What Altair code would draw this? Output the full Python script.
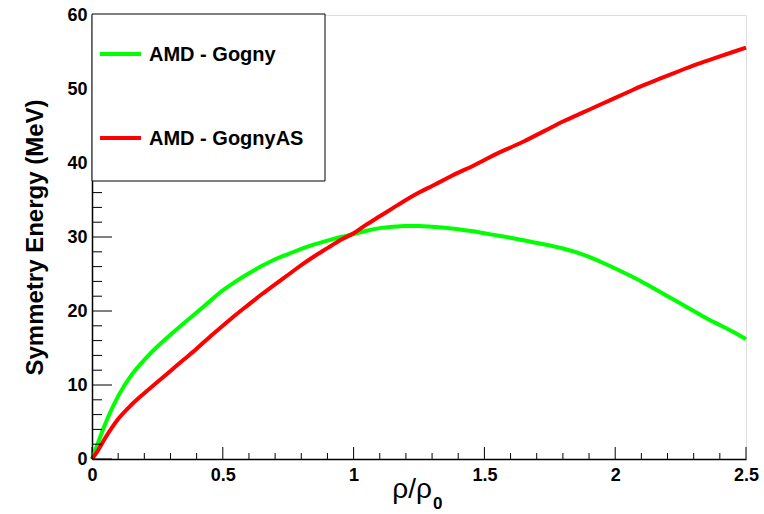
import altair as alt
import pandas as pd

# Reduced density rho/rho0 and symmetry energy (MeV) for the two AMD interactions
rho = [0.0, 0.02, 0.05, 0.1, 0.15, 0.2, 0.25, 0.3, 0.35, 0.4, 0.45, 0.5,
       0.55, 0.6, 0.65, 0.7, 0.75, 0.8, 0.85, 0.9, 0.95, 1.0, 1.05, 1.1,
       1.15, 1.2, 1.25, 1.3, 1.35, 1.4, 1.45, 1.5, 1.55, 1.6, 1.65, 1.7,
       1.75, 1.8, 1.85, 1.9, 1.95, 2.0, 2.05, 2.1, 2.15, 2.2, 2.25, 2.3,
       2.35, 2.4, 2.45, 2.5]

esym_gogny = [0.0, 1.9, 4.7, 8.5, 11.3, 13.4, 15.2, 16.8, 18.3, 19.8, 21.3, 22.8,
              24.0, 25.1, 26.1, 27.0, 27.7, 28.4, 29.0, 29.5, 30.0, 30.4, 30.85, 31.2,
              31.4, 31.5, 31.5, 31.4, 31.25, 31.05, 30.8, 30.5, 30.2, 29.9, 29.55, 29.2,
              28.85, 28.45, 27.95, 27.3, 26.55, 25.75, 24.9, 24.0, 23.0, 22.0, 21.0, 20.0,
              19.0, 18.1, 17.2, 16.2]

esym_gognyas = [0.0, 1.0, 2.8, 5.4, 7.3, 8.9, 10.4, 11.9, 13.4, 14.9, 16.5, 18.0,
                19.5, 20.9, 22.3, 23.6, 24.9, 26.2, 27.4, 28.5, 29.6, 30.5, 31.7, 32.8,
                33.9, 35.0, 36.0, 36.9, 37.8, 38.7, 39.5, 40.4, 41.3, 42.1, 42.9, 43.8,
                44.7, 45.6, 46.4, 47.2, 48.0, 48.8, 49.6, 50.4, 51.1, 51.8, 52.5, 53.2,
                53.8, 54.4, 55.0, 55.6]

models = ["AMD - Gogny", "AMD - GognyAS"]
model_colors = ["#00ff00", "#ff0000"]

x_labels = [0, 0.5, 1, 1.5, 2, 2.5]
x_minor = [0.1, 0.2, 0.3, 0.4, 0.6, 0.7, 0.8, 0.9, 1.1, 1.2, 1.3, 1.4,
           1.6, 1.7, 1.8, 1.9, 2.1, 2.2, 2.3, 2.4]
y_labels = [0, 10, 20, 30, 40, 50, 60]
y_minor = [2, 4, 6, 8, 12, 14, 16, 18, 22, 24, 26, 28, 32, 34, 36, 38,
           42, 44, 46, 48, 52, 54, 56, 58]

FONT = "Liberation Sans"
W, H = 654, 444

curves = pd.DataFrame({
    "rho": rho * 2,
    "esym": esym_gogny + esym_gognyas,
    "model": [models[0]] * len(rho) + [models[1]] * len(rho),
})

xs = alt.Scale(domain=[0, 2.5], nice=False, zero=False)
ys = alt.Scale(domain=[0, 60], nice=False, zero=False)

x_axis = alt.Axis(values=x_labels, format="~g", ticks=False, grid=False,
                  domainColor="black", domainWidth=1.5,
                  labelFont=FONT, labelFontSize=18, labelFontWeight="bold",
                  labelColor="black", labelPadding=7, labelFlush=False,
                  labelOverlap=False, title=None)
y_axis = alt.Axis(values=y_labels, format="d", ticks=False, grid=False,
                  domainColor="black", domainWidth=1.5,
                  labelFont=FONT, labelFontSize=18, labelFontWeight="bold",
                  labelColor="black", labelPadding=5, labelFlush=False,
                  labelOverlap=False,
                  title="Symmetry Energy (MeV)", titleFont=FONT,
                  titleFontSize=24, titleFontWeight="bold", titleColor="black",
                  titleAngle=270, titleAlign="center", titleBaseline="middle",
                  titleX=-57, titleY=H / 2)

lines = alt.Chart(curves).mark_line(strokeWidth=4, interpolate="monotone").encode(
    x=alt.X("rho:Q", scale=xs, axis=x_axis),
    y=alt.Y("esym:Q", scale=ys, axis=y_axis),
    color=alt.Color("model:N", scale=alt.Scale(domain=models, range=model_colors),
                    legend=None),
    detail="model:N",
)

# Inward-pointing tick marks on the left and bottom axes
def x_ticks(vals, length):
    return alt.Chart(pd.DataFrame({"v": vals})).mark_rule(color="black", strokeWidth=1).encode(
        x=alt.X("v:Q", scale=xs, axis=x_axis), y=alt.value(H), y2=alt.value(H - length))

def y_ticks(vals, length):
    return alt.Chart(pd.DataFrame({"v": vals})).mark_rule(color="black", strokeWidth=1).encode(
        y=alt.Y("v:Q", scale=ys, axis=y_axis), x=alt.value(0), x2=alt.value(length))

ticks = [x_ticks(x_labels, 12), x_ticks(x_minor, 6),
         y_ticks(y_labels, 20), y_ticks(y_minor, 10)]

one = pd.DataFrame({"k": [0]})

legend_box = alt.Chart(one).mark_rect(fill="white", stroke="black", strokeWidth=1).encode(
    x=alt.value(0), x2=alt.value(233), y=alt.value(-1), y2=alt.value(166))

legend_items = []
for i, (name, col) in enumerate(zip(models, model_colors)):
    yy = 39 + 84 * i
    legend_items.append(alt.Chart(one).mark_rule(color=col, strokeWidth=4).encode(
        x=alt.value(8), x2=alt.value(49), y=alt.value(yy)))
    legend_items.append(alt.Chart(one).mark_text(
        text=name, font=FONT, fontSize=20, fontWeight="bold", color="black",
        align="left", baseline="middle").encode(x=alt.value(57), y=alt.value(yy + 1)))

x_title = alt.Chart(one).mark_text(
    text="ρ/ρ", font=FONT, fontSize=28, color="black", align="right",
    baseline="alphabetic").encode(x=alt.value(340), y=alt.value(483))
x_title_sub = alt.Chart(one).mark_text(
    text="0", font=FONT, fontSize=17, fontWeight="bold", color="black", align="left",
    baseline="alphabetic").encode(x=alt.value(341), y=alt.value(494))

chart = alt.layer(
    lines, *ticks, legend_box, *legend_items, x_title, x_title_sub
).properties(
    width=W, height=H,
    padding={"left": 92, "top": 15, "right": 18, "bottom": 55},
    autosize=alt.AutoSizeParams(type="none"),
).configure_view(
    stroke="#555555", strokeWidth=1.5
).configure(background="white")

chart.save("out.html", embed_options={"renderer": "svg", "actions": False})
